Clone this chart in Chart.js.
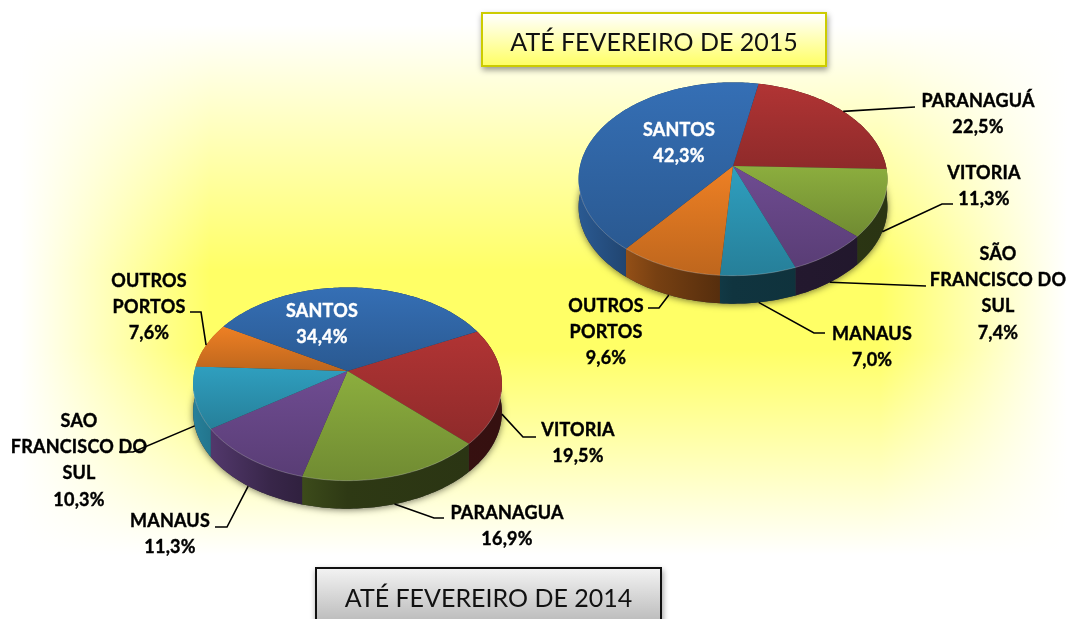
<!DOCTYPE html>
<html>
<head>
<meta charset="utf-8">
<script src="https://cdn.jsdelivr.net/npm/chart.js@4"></script>
<style>
  html, body { margin: 0; padding: 0; }
  body {
    width: 1067px; height: 619px; overflow: hidden; position: relative; font-family: Lato, sans-serif;
    background:
      linear-gradient(to bottom, #fff 25px, rgba(255,255,255,0) 270px, rgba(255,255,255,0) 350px, #fff 555px),
      linear-gradient(to right, #fff 20px, rgba(255,255,255,0) 210px, rgba(255,255,255,0) 880px, #fff 1067px),
      #ffff66;
  }
  canvas { position: absolute; left: 0; top: 0; }
  .title {
    position: absolute; box-sizing: border-box; text-align: center; color: #111;
    font-size: 25px; line-height: 56px;
  }
  #title2015 {
    left: 481px; top: 12px; width: 346px; height: 55px; border: 2.5px solid #cccc00; line-height: 55px;
    background: linear-gradient(#ffffff, #ffff66); box-shadow: 1px 3px 6px rgba(0,0,0,.4);
  }
  #title2014 {
    left: 315px; top: 567px; width: 347px; height: 64px; border: 2px solid #111;
    background: linear-gradient(#f2f2f2, #b4b4b4); box-shadow: 1px 3px 6px rgba(0,0,0,.4);
  }
</style>
</head>
<body>
<canvas id="pie2014" width="1067" height="619"></canvas>
<canvas id="pie2015" width="1067" height="619"></canvas>
<div class="title" id="title2015">ATÉ FEVEREIRO DE 2015</div>
<div class="title" id="title2014">ATÉ FEVEREIRO DE 2014</div>

<script>
// values, clockwise from the first slice after the rotation
const categories2015 = [["PARANAGUÁ"], ["VITORIA"], ["SÃO", "FRANCISCO DO", "SUL"], ["MANAUS"], ["OUTROS", "PORTOS"], ["SANTOS"]];
const values2015 = [22.5, 11.3, 7.4, 7.0, 9.6, 42.3];

const categories2014 = [["VITORIA"], ["PARANAGUA"], ["MANAUS"], ["SAO", "FRANCISCO DO", "SUL"], ["OUTROS", "PORTOS"], ["SANTOS"]];
const values2014 = [19.5, 16.9, 11.3, 10.3, 7.6, 34.4];

const colors2015 = ["#b13434", "#8cae3e", "#6f4c92", "#2f9fbf", "#ee8024", "#356fb5"];
const colors2014 = ["#b13434", "#8cae3e", "#6f4c92", "#2f9fbf", "#ee8024", "#356fb5"];

// label placement: x = text centre, y = first line, path = leader line after the slice edge
const layout2015 = [
  { x: 978, y: 101, path: [[915, 107]] },
  { x: 984, y: 173, path: [[942, 204], [953, 204]] },
  { x: 998, y: 254, path: [[926, 286]] },
  { x: 872, y: 334, path: [[814, 333], [825, 333]] },
  { x: 606, y: 306, path: [[659, 308], [648, 308]] },
  { x: 679, y: 130, color: "#fff" }
];
const layout2014 = [
  { x: 578, y: 430, path: [[523, 437], [536, 437]] },
  { x: 507, y: 513, path: [[434, 518], [444, 518]] },
  { x: 170, y: 521, path: [[227, 527], [215, 527]] },
  { x: 79, y: 421, path: [[133, 452], [119, 452]] },
  { x: 149, y: 281, path: [[201, 312], [190, 312]] },
  { x: 322, y: 311, color: "#fff" }
];

const PERSPECTIVE = 0.135; // near edge of the pie looks bigger than the far edge
const FLATTEN = 0.62;      // vertical squash of the disc
const DEPTH = 28;
const LABEL_FONT = "bold 18px Lato, sans-serif";
const LINE_HEIGHT = 26.3;

function shade(hex, f) {
  const n = parseInt(hex.slice(1), 16);
  const r = Math.round((n >> 16) * f), g = Math.round(((n >> 8) & 255) * f), b = Math.round((n & 255) * f);
  return `rgb(${r},${g},${b})`;
}

// where an angle of a Chart.js arc lands on the tilted disc
function project(arc, a) {
  const R = arc.outerRadius, c = Math.cos(a), s = Math.sin(a), w = 1 - PERSPECTIVE * s;
  return [arc.x + R * c / w, arc.y + R * FLATTEN * s / w];
}

function rimPoints(arc) {
  const pts = [];
  const steps = Math.max(2, Math.ceil((arc.endAngle - arc.startAngle) / 0.02));
  for (let i = 0; i <= steps; i++) {
    pts.push(project(arc, arc.startAngle + (arc.endAngle - arc.startAngle) * i / steps));
  }
  return pts;
}

function tracePolygon(ctx, pts) {
  ctx.beginPath();
  pts.forEach((p, i) => (i ? ctx.lineTo(p[0], p[1]) : ctx.moveTo(p[0], p[1])));
  ctx.closePath();
}

const pie3d = {
  id: "pie3d",
  beforeDatasetsDraw(chart) {
    const ctx = chart.ctx;
    const arcs = chart.getDatasetMeta(0).data;
    const first = arcs[0];
    const R = first.outerRadius;

    // soft shadow under the whole pie
    const outline = [];
    arcs.forEach(arc => outline.push(...rimPoints(arc).map(p => [p[0], p[1] + DEPTH])));
    ctx.save();
    ctx.shadowColor = "rgba(0,0,0,0.55)";
    ctx.shadowBlur = 7;
    ctx.shadowOffsetY = 1;
    ctx.fillStyle = "#333";
    tracePolygon(ctx, outline);
    ctx.fill();
    ctx.restore();

    // side wall, darker towards the right
    arcs.forEach(arc => {
      const base = arc.options.backgroundColor;
      const top = rimPoints(arc);
      const bottom = top.map(p => [p[0], p[1] + DEPTH]).reverse();
      const g = ctx.createLinearGradient(arc.x - R, 0, arc.x + R, 0);
      g.addColorStop(0, shade(base, 0.8));
      g.addColorStop(0.25, shade(base, 0.5));
      g.addColorStop(0.5, shade(base, 0.33));
      g.addColorStop(1, shade(base, 0.3));
      ctx.fillStyle = g;
      tracePolygon(ctx, top.concat(bottom));
      ctx.fill();
    });

    // top faces
    arcs.forEach(arc => {
      const base = arc.options.backgroundColor;
      const rim = rimPoints(arc);
      const pts = [[arc.x, arc.y]].concat(rim);
      const ys = pts.map(p => p[1]);
      const g = ctx.createLinearGradient(0, Math.min(...ys), 0, Math.max(...ys));
      g.addColorStop(0, base);
      g.addColorStop(1, shade(base, 0.8));
      ctx.fillStyle = g;
      tracePolygon(ctx, pts);
      ctx.fill();

      // thin light edge on the near rim
      ctx.strokeStyle = "rgba(255,255,255,0.22)";
      ctx.lineWidth = 1;
      ctx.beginPath();
      rim.filter(p => p[1] > arc.y + 20).forEach((p, i) => (i ? ctx.lineTo(p[0], p[1]) : ctx.moveTo(p[0], p[1])));
      ctx.stroke();
    });
    return false;
  },
  afterDraw(chart) {
    const ctx = chart.ctx;
    const arcs = chart.getDatasetMeta(0).data;
    const place = chart.options.plugins.pie3d.layout;
    const values = chart.data.datasets[0].data;

    arcs.forEach((arc, i) => {
      const spot = place[i];
      if (spot.path) {
        const mid = (arc.startAngle + arc.endAngle) / 2;
        const start = project(arc, mid);
        if (Math.sin(mid) > 0) start[1] += DEPTH;
        ctx.strokeStyle = "#000";
        ctx.lineWidth = 1.6;
        ctx.beginPath();
        ctx.moveTo(start[0], start[1]);
        spot.path.forEach(p => ctx.lineTo(p[0], p[1]));
        ctx.stroke();
      }
      const lines = chart.data.labels[i].concat(values[i].toFixed(1).replace(".", ",") + "%");
      ctx.font = LABEL_FONT;
      ctx.letterSpacing = "0.2px";
      ctx.textAlign = "center";
      ctx.textBaseline = "middle";
      ctx.fillStyle = spot.color || "#000";
      ctx.strokeStyle = spot.color || "#000";
      ctx.lineWidth = 0.4; // the original bold is a bit heavier than Lato's
      lines.forEach((line, k) => {
        ctx.fillText(line, spot.x, spot.y + k * LINE_HEIGHT);
        ctx.strokeText(line, spot.x, spot.y + k * LINE_HEIGHT);
      });
    });
  }
};

function makePie(id, categories, values, colors, rotation, padding, place) {
  new Chart(document.getElementById(id), {
    type: "pie",
    plugins: [pie3d],
    data: {
      labels: categories,
      datasets: [{ data: values, backgroundColor: colors, borderWidth: 0 }]
    },
    options: {
      responsive: false,
      animation: false,
      rotation: rotation,
      layout: { padding: padding },
      plugins: {
        legend: { display: false },
        tooltip: { enabled: false },
        pie3d: { layout: place }
      }
    }
  });
}

// padding puts the centre of each pie where the slices meet, radius 153
makePie("pie2014", categories2014, values2014, colors2014, 63.9,
  { left: 194.5, right: 566.5, top: 218, bottom: 95 }, layout2014);
makePie("pie2015", categories2015, values2015, colors2015, 10.9,
  { left: 580, right: 181, top: 13, bottom: 300 }, layout2015);
</script>
</body>
</html>
